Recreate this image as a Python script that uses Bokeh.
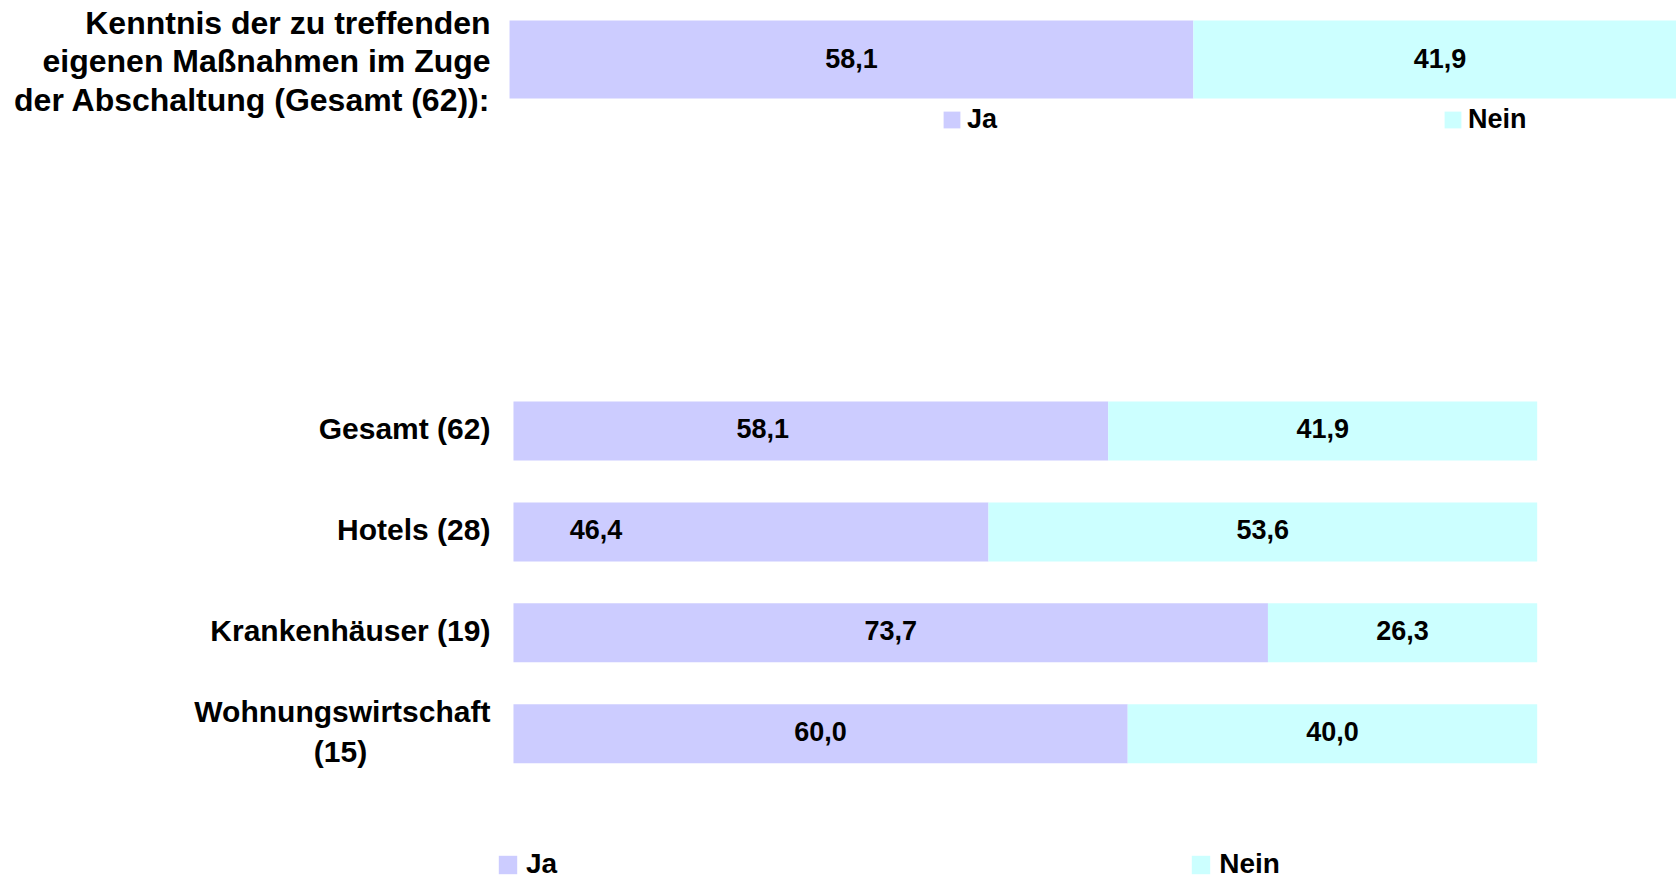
from bokeh.plotting import figure
from bokeh.models import Range1d, ColumnDataSource, Legend, LegendItem
from bokeh.layouts import column
from bokeh.embed import file_html
from bokeh.resources import INLINE
from bokeh.core.properties import value

# ---------------- data ----------------
top_title = "Kenntnis der zu treffenden\neigenen Maßnahmen im Zuge\nder Abschaltung (Gesamt (62)):"
top_ja = [58.1]
top_nein = [41.9]

categories = ["Gesamt (62)", "Hotels (28)", "Krankenhäuser (19)", "Wohnungswirtschaft\n(15)"]
ja = [58.1, 46.4, 73.7, 60.0]
nein = [41.9, 53.6, 26.3, 40.0]
series_names = ["Ja", "Nein"]

# ---------------- style ----------------
JA_COLOR = "#CCCCFF"
NEIN_COLOR = "#CCFFFF"
FONT = "Liberation Sans"
W = 1676
TOP_H = 158
BOT_H = 720
ja_label_offset_px = [-48, -155, 0, 0]   # manual label placement as in the reference


def fmt(v):
    return f"{v:.1f}".replace(".", ",")


def base_fig(h, xr, yr):
    p = figure(width=W, height=h, x_range=xr, y_range=yr,
               output_backend="svg", toolbar_location=None,
               x_axis_location=None, y_axis_location=None,
               min_border=0, outline_line_color=None)
    p.grid.visible = False
    p.background_fill_color = "white"
    p.border_fill_color = "white"
    return p


# ---------------- top chart ----------------
top = base_fig(TOP_H, Range1d(-43.25, 99.15), Range1d(-0.99, 0.59))
tsrc = ColumnDataSource(dict(
    y=[0] * len(top_ja),
    ja=top_ja,
    total=[a + b for a, b in zip(top_ja, top_nein)],
    ja_mid=[a / 2 for a in top_ja],
    nein_mid=[a + b / 2 for a, b in zip(top_ja, top_nein)],
    ja_txt=[fmt(a) for a in top_ja],
    nein_txt=[fmt(b) for b in top_nein],
    title=[top_title],
))
t_ja = top.hbar(y="y", left=0, right="ja", height=0.78, source=tsrc,
                fill_color=JA_COLOR, line_color=None)
t_nein = top.hbar(y="y", left="ja", right="total", height=0.78, source=tsrc,
                  fill_color=NEIN_COLOR, line_color=None)
for xcol, tcol in (("ja_mid", "ja_txt"), ("nein_mid", "nein_txt")):
    top.text(x=xcol, y="y", text=tcol, source=tsrc, text_align="center",
             text_baseline="middle", text_font=value(FONT), text_font_style="bold",
             text_font_size="27px", text_color="black", y_offset=-1)
top.text(x=-1.61, y="y", text="title", source=tsrc, text_align="right",
         text_baseline="middle", text_font=value(FONT), text_font_style="bold",
         text_font_size="32px", text_line_height=1.07, y_offset=2, text_color="black")

tleg = Legend(items=[LegendItem(label=series_names[0], renderers=[t_ja]),
                     LegendItem(label=series_names[1], renderers=[t_nein])],
              orientation="horizontal", location=(941, 23), spacing=445,
              glyph_width=21, glyph_height=21, label_standoff=5,
              padding=0, margin=0, border_line_color=None, background_fill_alpha=0,
              label_text_font=FONT, label_text_font_style="bold",
              label_text_font_size="27px", label_text_color="black")
top.add_layout(tleg)

# ---------------- bottom chart ----------------
bot = base_fig(BOT_H, Range1d(-50.11, 113.61), Range1d(4.434, -2.70))
idx = list(range(len(categories)))
first_lines = [c.split("\n")[0] for c in categories]
second_lines = [c.split("\n")[1] if "\n" in c else "" for c in categories]
bsrc = ColumnDataSource(dict(
    y=idx,
    ja=ja,
    total=[a + b for a, b in zip(ja, nein)],
    ja_mid=[a / 2 for a in ja],
    nein_mid=[a + b / 2 for a, b in zip(ja, nein)],
    ja_txt=[fmt(a) for a in ja],
    nein_txt=[fmt(b) for b in nein],
    ja_off=ja_label_offset_px,
    line1=first_lines,
    line2=second_lines,
    off1=[-22 if s else -2 for s in second_lines],
))
b_ja = bot.hbar(y="y", left=0, right="ja", height=0.585, source=bsrc,
                fill_color=JA_COLOR, line_color=None)
b_nein = bot.hbar(y="y", left="ja", right="total", height=0.585, source=bsrc,
                  fill_color=NEIN_COLOR, line_color=None)
bot.text(x="ja_mid", y="y", text="ja_txt", source=bsrc, x_offset="ja_off", y_offset=-2,
         text_align="center", text_baseline="middle", text_font=value(FONT),
         text_font_style="bold", text_font_size="27px", text_color="black")
bot.text(x="nein_mid", y="y", text="nein_txt", source=bsrc, y_offset=-2,
         text_align="center", text_baseline="middle", text_font=value(FONT),
         text_font_style="bold", text_font_size="27px", text_color="black")
bot.text(x=-2.25, y="y", text="line1", source=bsrc, y_offset="off1",
         text_align="right", text_baseline="middle", text_font=value(FONT),
         text_font_style="bold", text_font_size="30px", text_color="black")
bot.text(x=-2.25, y="y", text="line2", source=bsrc, y_offset=18, x_offset=-150,
         text_align="center", text_baseline="middle", text_font=value(FONT),
         text_font_style="bold", text_font_size="30px", text_color="black")

bleg = Legend(items=[LegendItem(label=series_names[0], renderers=[b_ja]),
                     LegendItem(label=series_names[1], renderers=[b_nein])],
              orientation="horizontal", location=(496, -2), spacing=632,
              glyph_width=23, glyph_height=23, label_standoff=7,
              padding=0, margin=0, border_line_color=None, background_fill_alpha=0,
              label_text_font=FONT, label_text_font_style="bold",
              label_text_font_size="28px", label_text_color="black")
bot.add_layout(bleg)

layout = column(top, bot, spacing=0)
open("out.html", "w").write(file_html(layout, INLINE))
